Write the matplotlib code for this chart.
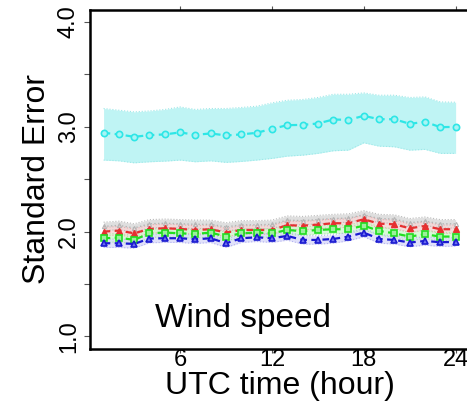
import numpy as np
import matplotlib.pyplot as plt

# standard error of wind speed, hourly (UTC)
hours = np.arange(1, 25)

cyan_se = [2.943, 2.928, 2.905, 2.921, 2.928, 2.947, 2.924, 2.937, 2.918, 2.928, 2.943, 2.981,
           3.016, 3.019, 3.032, 3.070, 3.067, 3.105, 3.073, 3.073, 3.029, 3.048, 2.997, 3.000]
cyan_hi = [3.175, 3.159, 3.143, 3.152, 3.166, 3.190, 3.166, 3.175, 3.175, 3.185, 3.197, 3.229,
           3.254, 3.261, 3.280, 3.311, 3.311, 3.324, 3.302, 3.302, 3.280, 3.286, 3.238, 3.235]
cyan_lo = [2.683, 2.676, 2.657, 2.667, 2.673, 2.683, 2.667, 2.676, 2.661, 2.670, 2.683, 2.699,
           2.721, 2.730, 2.747, 2.772, 2.778, 2.848, 2.816, 2.810, 2.778, 2.785, 2.747, 2.747]

gray_se = [2.050, 2.060, 2.035, 2.075, 2.080, 2.075, 2.070, 2.070, 2.045, 2.065, 2.065, 2.070,
           2.110, 2.105, 2.115, 2.125, 2.130, 2.160, 2.125, 2.120, 2.085, 2.100, 2.075, 2.075]
red_se = [2.000, 2.010, 1.984, 2.026, 2.032, 2.026, 2.016, 2.023, 1.991, 2.016, 2.016, 2.016,
          2.061, 2.057, 2.067, 2.080, 2.080, 2.118, 2.076, 2.070, 2.032, 2.054, 2.023, 2.023]
green_se = [1.937, 1.943, 1.921, 1.984, 1.991, 1.984, 1.978, 1.991, 1.953, 1.984, 1.991, 1.984,
            2.016, 2.004, 2.016, 2.023, 2.023, 2.057, 2.007, 1.984, 1.953, 1.975, 1.953, 1.953]
blue_se = [1.889, 1.889, 1.883, 1.934, 1.937, 1.937, 1.927, 1.937, 1.889, 1.937, 1.946, 1.937,
           1.959, 1.921, 1.921, 1.930, 1.953, 1.991, 1.930, 1.921, 1.896, 1.911, 1.899, 1.902]
band_half = 0.04

xticks = [6, 12, 18, 24]
yticks = [1.0, 1.5, 2.0, 2.5, 3.0, 3.5, 4.0]
ylabels = ['1.0', '', '2.0', '', '3.0', '', '4.0']

plt.rcParams['font.family'] = ['Liberation Sans', 'DejaVu Sans']

fig = plt.figure(figsize=(4.67, 4.07), dpi=100)
ax = fig.add_axes([89.5 / 467, 1 - 349 / 407, 380.2 / 467, 339.5 / 407])

# confidence bands
ax.fill_between(hours, cyan_lo, cyan_hi, color='#BFF4F4', lw=0)
ax.plot(hours, cyan_hi, ls=':', lw=0.8, color='#9EE8E8')
ax.plot(hours, cyan_lo, ls=':', lw=0.8, color='#9EE8E8')

lower = [(gray_se, '#DADADA', '#BBBBBB'),
         (red_se, '#F6D6D6', '#EEAAAA'),
         (green_se, '#D2F8D2', '#A8EEA8'),
         (blue_se, '#DCDCFA', '#B4B4F0')]
for se, fc, ec in lower:
    se = np.array(se)
    ax.fill_between(hours, se - band_half, se + band_half, color=fc, lw=0, alpha=0.85)
    ax.plot(hours, se + band_half, ls=':', lw=0.8, color=ec)
    ax.plot(hours, se - band_half, ls=':', lw=0.8, color=ec)

# mean lines
ax.plot(hours, cyan_se, ls=(0, (3, 2)), lw=1.6, color='#2EE6E6',
        marker='o', ms=4.5, mfc='#A8F4F4', mec='#2EE6E6', mew=1.2)
ax.plot(hours, gray_se, ls=':', lw=1.0, color='#B5B5B5',
        marker='^', ms=3, mfc='none', mec='#B5B5B5', mew=0.8)
ax.plot(hours, red_se, ls=(0, (3, 2)), lw=1.6, color='#E53030',
        marker='^', ms=4.5, mfc='#E53030', mec='#E53030')
ax.plot(hours, green_se, ls=(0, (3, 2)), lw=1.6, color='#22DD22',
        marker='s', ms=4.5, mfc='#9CF09C', mec='#22DD22', mew=1.2)
ax.plot(hours, blue_se, ls=(0, (3, 2)), lw=1.6, color='#1A1AD0',
        marker='^', ms=4.5, mfc='#6F6FF0', mec='#1A1AD0', mew=1.2)

ax.text(4.37, 1.092, 'Wind speed', fontsize=24, ha='left', va='baseline')

ax.set_xlim(0.08, 24.92)
ax.set_ylim(0.88, 4.12)
ax.set_xticks(xticks)
ax.set_yticks(yticks)
ax.set_yticklabels(ylabels, rotation=90, va='center')

for side in ['left', 'top', 'bottom']:
    ax.spines[side].set_linewidth(1.8)
ax.spines['right'].set_visible(False)

ax.tick_params(axis='x', which='both', top=True, direction='out', length=3,
               width=0.8, color='#555555', labelsize=17, pad=-3)
ax.tick_params(axis='y', direction='out', length=4, width=0.8,
               color='#555555', labelsize=17, pad=3)

ax.set_xlabel('UTC time (hour)', fontsize=23)
ax.xaxis.set_label_coords(0.5, -0.065)
ax.set_ylabel('Standard Error', fontsize=23)
ax.yaxis.set_label_coords(-0.099, 0.5)

plt.savefig('out.png', dpi=100)
